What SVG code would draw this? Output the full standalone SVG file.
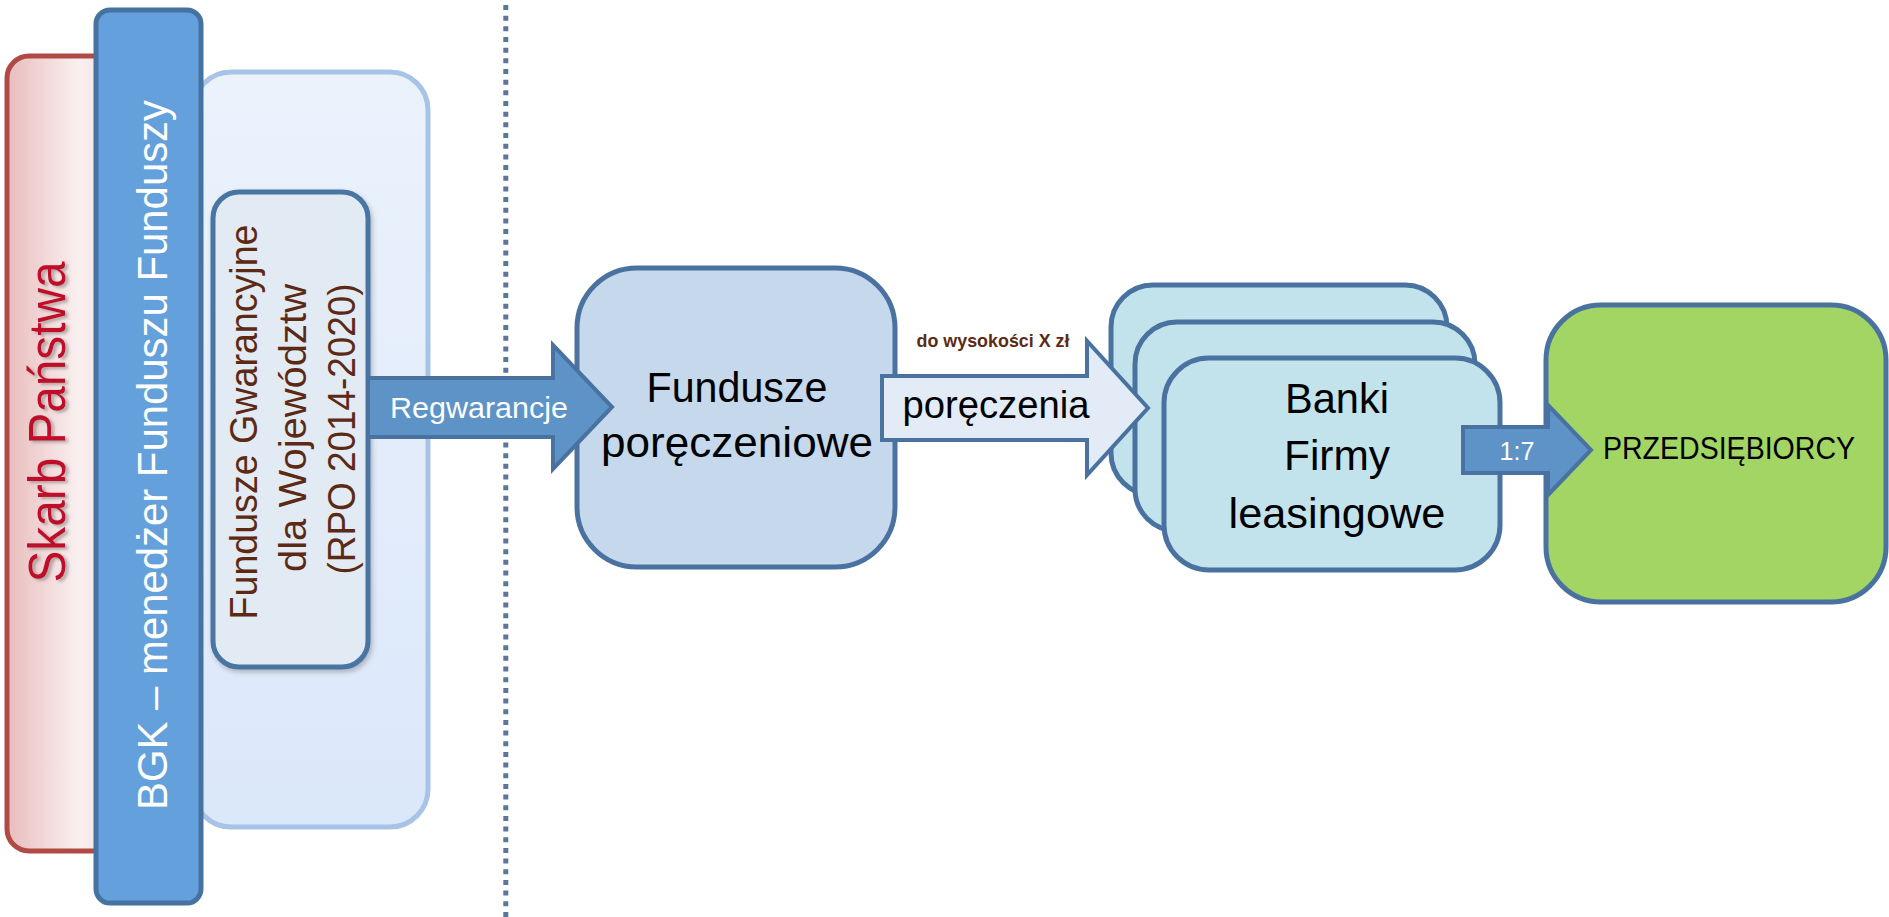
<svg xmlns="http://www.w3.org/2000/svg" width="1889" height="917" viewBox="0 0 1889 917">
<defs>
<linearGradient id="gSkarb" x1="0" y1="0" x2="1" y2="0">
<stop offset="0" stop-color="#e9bcbc"/>
<stop offset="0.65" stop-color="#faf0f0"/>
<stop offset="1" stop-color="#f3dcdc"/>
</linearGradient>
<linearGradient id="gPanel" x1="0" y1="0" x2="0" y2="1">
<stop offset="0" stop-color="#ebf2fc"/>
<stop offset="1" stop-color="#dbe7fa"/>
</linearGradient>
<filter id="txtShadow" x="-10%" y="-20%" width="120%" height="150%">
<feDropShadow dx="-2" dy="3" stdDeviation="1.5" flood-color="#777" flood-opacity="0.55"/>
</filter>
<filter id="boxShadow" x="-10%" y="-10%" width="125%" height="120%">
<feDropShadow dx="2" dy="3" stdDeviation="2.5" flood-color="#555" flood-opacity="0.35"/>
</filter>
</defs>
<style>
.box { stroke: #4a72a0; stroke-width: 5; }
.arrow { stroke: #4a72a0; stroke-width: 4; stroke-linejoin: miter; }
.t { font-family: "Liberation Sans", Arial, sans-serif; }
.blk { fill: #000; text-anchor: middle; }
.wht { fill: #fff; text-anchor: middle; }
.brn { fill: #5c2a14; text-anchor: middle; }
</style>
<rect width="1889" height="917" fill="#ffffff"/>

<g id="skarb-panstwa">
<rect x="7" y="56" width="110" height="795" rx="22" fill="url(#gSkarb)" stroke="#b04a44" stroke-width="5"/>
<text class="t" transform="translate(65,422) rotate(-90)" text-anchor="middle" font-size="52" fill="#c0102c" filter="url(#txtShadow)" textLength="321" lengthAdjust="spacingAndGlyphs">Skarb Państwa</text>
</g>

<g id="panel-rpo">
<rect x="193" y="72" width="235" height="755" rx="38" fill="url(#gPanel)" stroke="#a7c3e5" stroke-width="5"/>
</g>

<g id="bgk">
<rect x="96" y="10" width="105" height="893" rx="14" fill="#64a0dc" stroke="#4672a0" stroke-width="5"/>
<text class="t wht" transform="translate(167,455) rotate(-90)" font-size="43" textLength="710" lengthAdjust="spacingAndGlyphs">BGK – menedżer Funduszu Funduszy</text>
</g>

<g id="fundusze-gwarancyjne">
<rect x="213" y="192" width="155" height="475" rx="26" fill="#e2eaf4" stroke="#4a74a2" stroke-width="5" filter="url(#boxShadow)"/>
<text class="t brn" transform="translate(257,422) rotate(-90)" font-size="39" textLength="395" lengthAdjust="spacingAndGlyphs">Fundusze Gwarancyjne</text>
<text class="t brn" transform="translate(306,428) rotate(-90)" font-size="39" textLength="288" lengthAdjust="spacingAndGlyphs">dla Województw</text>
<text class="t brn" transform="translate(355,429) rotate(-90)" font-size="39" textLength="291" lengthAdjust="spacingAndGlyphs">(RPO 2014-2020)</text>
</g>

<g id="separator">
<line x1="505.8" y1="5" x2="505.8" y2="917" stroke="#5a7698" stroke-width="5" stroke-dasharray="5 5.67"/>
</g>

<g id="fundusze-poreczeniowe">
<rect x="577" y="268" width="318" height="299" rx="60" fill="#c5d8ec" class="box"/>
<text class="t blk" x="737" y="402" font-size="43" textLength="181" lengthAdjust="spacingAndGlyphs">Fundusze</text>
<text class="t blk" x="737" y="457" font-size="43" textLength="272" lengthAdjust="spacingAndGlyphs">poręczeniowe</text>
</g>

<g id="banki">
<rect x="1111" y="285" width="336" height="210" rx="42" fill="#c3e3ec" class="box"/>
<rect x="1135" y="322" width="340" height="209" rx="42" fill="#c3e3ec" class="box"/>
<rect x="1164" y="358" width="336" height="212" rx="45" fill="#c3e3ec" class="box"/>
<text class="t blk" x="1337" y="413" font-size="42" textLength="104" lengthAdjust="spacingAndGlyphs">Banki</text>
<text class="t blk" x="1337" y="470" font-size="42" textLength="106" lengthAdjust="spacingAndGlyphs">Firmy</text>
<text class="t blk" x="1337" y="528" font-size="42" textLength="217" lengthAdjust="spacingAndGlyphs">leasingowe</text>
</g>

<g id="przedsiebiorcy">
<rect x="1546" y="305" width="340" height="297" rx="55" fill="#a2d563" class="box"/>
<text class="t blk" x="1729" y="459" font-size="32" textLength="252" lengthAdjust="spacingAndGlyphs">PRZEDSIĘBIORCY</text>
</g>

<g id="connectors">
<g id="arrow-regwarancje">
<path class="arrow" d="M368,378 H553 V345 L612,407 L553,469 V437 H368 Z" fill="#5e93c8"/>
<text class="t wht" x="479" y="418" font-size="30" textLength="178" lengthAdjust="spacingAndGlyphs">Regwarancje</text>
</g>
<g id="arrow-poreczenia">
<path class="arrow" d="M882,376 H1087 V341 L1148,408 L1087,475 V440 H882 Z" fill="#e2ebf6"/>
<text class="t blk" x="996" y="418" font-size="39" textLength="187" lengthAdjust="spacingAndGlyphs">poręczenia</text>
<text class="t brn" x="993" y="347" font-size="19" font-weight="bold" textLength="153" lengthAdjust="spacingAndGlyphs">do wysokości X zł</text>
</g>
<g id="arrow-1-7">
<path class="arrow" d="M1463,427 H1548 V405 L1591,450 L1548,495 V473 H1463 Z" fill="#5e93c8"/>
<text class="t wht" x="1517" y="460" font-size="26" textLength="35" lengthAdjust="spacingAndGlyphs">1:7</text>
</g>
</g>
</svg>
